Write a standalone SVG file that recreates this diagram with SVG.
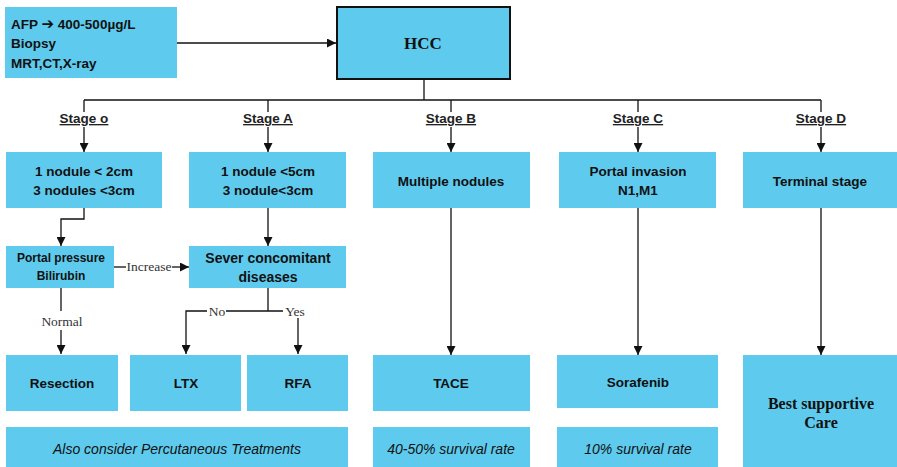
<svg xmlns="http://www.w3.org/2000/svg" width="897" height="467" viewBox="0 0 897 467">
  <style>
    .box { fill: #5ECBEE; }
    .hcc { fill: #5ECBEE; stroke: #111; stroke-width: 2; }
    .t { font-family: "Liberation Sans", Arial, sans-serif; font-weight: bold; fill: #111; text-anchor: middle; }
    .tl { font-family: "Liberation Sans", Arial, sans-serif; font-weight: bold; fill: #111; }
    .it { font-family: "Liberation Sans", Arial, sans-serif; font-style: italic; fill: #111; text-anchor: middle; font-size: 14px; }
    .serif { font-family: "Liberation Serif", "Times New Roman", serif; font-weight: bold; fill: #111; text-anchor: middle; }
    .lbl { font-family: "Liberation Serif", "Times New Roman", serif; fill: #333; text-anchor: middle; font-size: 13.5px; }
    .stage { font-family: "Liberation Sans", Arial, sans-serif; font-weight: bold; fill: #222; text-anchor: middle; font-size: 13.5px; text-decoration: underline; }
    .c { fill: none; stroke: #111; stroke-width: 1.3; }
    .ca { fill: none; stroke: #111; stroke-width: 1.3; marker-end: url(#arrow); }
  </style>
  <defs>
    <marker id="arrow" viewBox="0 0 10 10" refX="10" refY="5" markerUnits="userSpaceOnUse" markerWidth="9" markerHeight="9" orient="auto">
      <path d="M0,0 L10,5 L0,10 Z" fill="#111"/>
    </marker>
  </defs>

  <!-- connectors -->
  <g id="connectors">
    <path class="ca" d="M177,43 H336"/>
    <path class="c" d="M424,79 V100"/>
    <path class="c" d="M84,100 H821"/>
    <!-- stage drops -->
    <path class="c" d="M84,100 V112"/><path class="ca" d="M84,127 V152"/>
    <path class="c" d="M268,100 V112"/><path class="ca" d="M268,127 V152"/>
    <path class="c" d="M451,100 V112"/><path class="ca" d="M451,127 V152"/>
    <path class="c" d="M638,100 V112"/><path class="ca" d="M638,127 V152"/>
    <path class="c" d="M821,100 V112"/><path class="ca" d="M821,127 V152"/>
    <!-- stage 0 branch -->
    <path class="ca" d="M84,208 V219 H61 V246"/>
    <path class="c" d="M114,267 H126"/><path class="ca" d="M172,267 H189"/>
    <path class="c" d="M61,288 V311"/><path class="ca" d="M61,330 V354"/>
    <!-- stage A branch -->
    <path class="ca" d="M268,208 V246"/>
    <path class="c" d="M268,288 V311"/>
    <path class="c" d="M283,311 H226"/>
    <path class="ca" d="M207,311 H186 V354"/>
    <path class="ca" d="M298,318 V354"/>
    <!-- stages B, C, D -->
    <path class="ca" d="M451,208 V355"/>
    <path class="ca" d="M638,208 V355"/>
    <path class="ca" d="M821,208 V355"/>
  </g>

  <g id="lbl-increase"><rect x="126" y="259" width="46" height="16" fill="#fff"/><text class="lbl" x="149" y="271">Increase</text></g>
  <g id="lbl-normal"><text class="lbl" x="62" y="326">Normal</text></g>
  <g id="lbl-no"><text class="lbl" x="217" y="316">No</text></g>
  <g id="lbl-yes"><text class="lbl" x="295" y="316">Yes</text></g>

  <!-- diagnosis -->
  <g id="diagnosis">
    <rect class="box" x="5" y="7" width="172" height="71"/>
    <text class="tl" x="11" y="29" font-size="13.5">AFP <tspan font-family="DejaVu Sans, sans-serif" font-size="15">➔</tspan> 400-500µg/L</text>
    <text class="tl" x="11" y="48" font-size="13.5">Biopsy</text>
    <text class="tl" x="11" y="68" font-size="13.5">MRT,CT,X-ray</text>
  </g>

  <g id="hcc">
    <rect class="hcc" x="337" y="7" width="173" height="72"/>
    <text class="serif" x="423" y="49" font-size="17">HCC</text>
  </g>

  <!-- stage labels -->
  <g id="stage-0"><text class="stage" x="84" y="123">Stage o</text></g>
  <g id="stage-a"><text class="stage" x="268" y="123">Stage A</text></g>
  <g id="stage-b"><text class="stage" x="451" y="123">Stage B</text></g>
  <g id="stage-c"><text class="stage" x="638" y="123">Stage C</text></g>
  <g id="stage-d"><text class="stage" x="821" y="123">Stage D</text></g>

  <!-- stage criteria -->
  <g id="crit-0">
    <rect class="box" x="6" y="152" width="156" height="56"/>
    <text class="t" x="84" y="176" font-size="13.5">1 nodule &lt; 2cm</text>
    <text class="t" x="84" y="195" font-size="13.5">3 nodules &lt;3cm</text>
  </g>
  <g id="crit-a">
    <rect class="box" x="189" y="152" width="157" height="56"/>
    <text class="t" x="268" y="176" font-size="13.5">1 nodule &lt;5cm</text>
    <text class="t" x="268" y="195" font-size="13.5">3 nodule&lt;3cm</text>
  </g>
  <g id="crit-b">
    <rect class="box" x="373" y="152" width="157" height="56"/>
    <text class="t" x="451" y="186" font-size="13.5">Multiple nodules</text>
  </g>
  <g id="crit-c">
    <rect class="box" x="559" y="152" width="157" height="56"/>
    <text class="t" x="638" y="176" font-size="13.5">Portal invasion</text>
    <text class="t" x="638" y="195" font-size="13.5">N1,M1</text>
  </g>
  <g id="crit-d">
    <rect class="box" x="743" y="152" width="154" height="56"/>
    <text class="t" x="820" y="186" font-size="13.5">Terminal stage</text>
  </g>

  <!-- decision boxes -->
  <g id="portal">
    <rect class="box" x="6" y="246" width="108" height="42"/>
    <text class="t" x="61" y="262" font-size="12">Portal pressure</text>
    <text class="t" x="61" y="280" font-size="12">Bilirubin</text>
  </g>
  <g id="concomitant">
    <rect class="box" x="189" y="246" width="157" height="42"/>
    <text class="t" x="268" y="263" font-size="14">Sever concomitant</text>
    <text class="t" x="268" y="282" font-size="14">diseases</text>
  </g>

  <!-- treatments -->
  <g id="resection">
    <rect class="box" x="6" y="355" width="112" height="56"/>
    <text class="t" x="62" y="388" font-size="13.5">Resection</text>
  </g>
  <g id="ltx">
    <rect class="box" x="130" y="355" width="111" height="56"/>
    <text class="t" x="186" y="388" font-size="13.5">LTX</text>
  </g>
  <g id="rfa">
    <rect class="box" x="247" y="355" width="101" height="56"/>
    <text class="t" x="298" y="388" font-size="13.5">RFA</text>
  </g>
  <g id="tace">
    <rect class="box" x="373" y="355" width="157" height="56"/>
    <text class="t" x="451" y="388" font-size="13.5">TACE</text>
  </g>
  <g id="sorafenib">
    <rect class="box" x="557" y="355" width="161" height="53"/>
    <text class="t" x="638" y="387" font-size="13.5">Sorafenib</text>
  </g>
  <g id="supportive">
    <rect class="box" x="743" y="355" width="154" height="112"/>
    <text class="serif" x="821" y="409" font-size="16">Best supportive</text>
    <text class="serif" x="821" y="428" font-size="16">Care</text>
  </g>

  <!-- notes -->
  <g id="note-percutaneous">
    <rect class="box" x="6" y="427" width="342" height="40"/>
    <text class="it" x="177" y="454">Also consider Percutaneous Treatments</text>
  </g>
  <g id="note-tace">
    <rect class="box" x="373" y="427" width="157" height="40"/>
    <text class="it" x="451" y="454">40-50% survival rate</text>
  </g>
  <g id="note-sorafenib">
    <rect class="box" x="557" y="427" width="161" height="40"/>
    <text class="it" x="638" y="454">10% survival rate</text>
  </g>
</svg>
